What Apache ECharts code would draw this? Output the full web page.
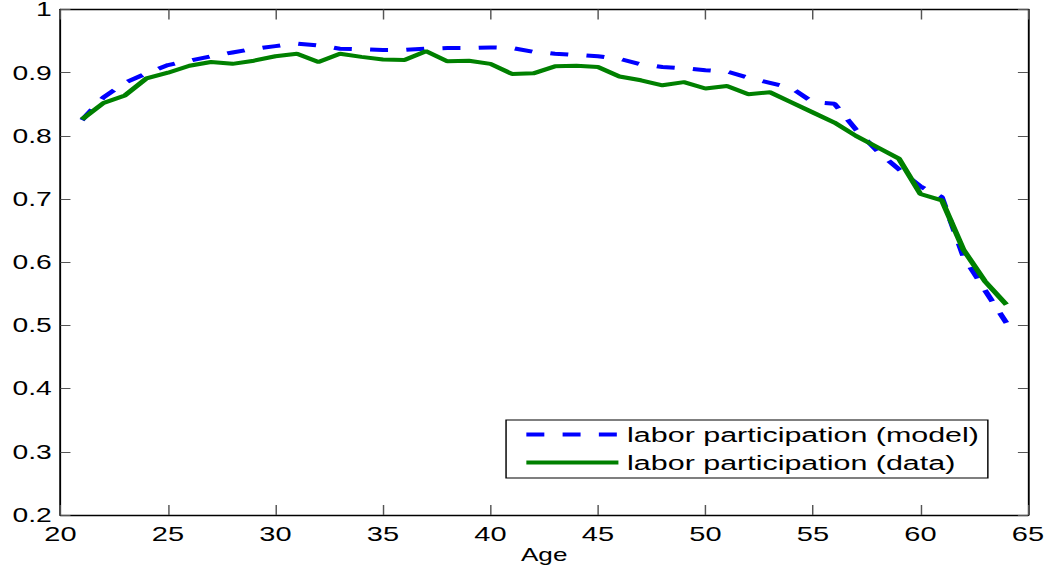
<!DOCTYPE html>
<html>
<head>
<meta charset="utf-8">
<script src="https://cdn.jsdelivr.net/npm/echarts@6/dist/echarts.min.js"></script>
<style>
  html, body { margin: 0; padding: 0; background: #fff; overflow: hidden; }
  /* The figure is laid out narrow and widened horizontally, giving the
     wide lettering and heavier vertical strokes of the original export. */
  #chart {
    position: absolute; left: 0; top: 0;
    width: 723.45px; height: 567px;
    transform-origin: 0 0;
    transform: scaleX(1.45);
  }
</style>
</head>
<body>
<div id="chart"></div>
<script>
// Age on the horizontal axis
const ages = [21, 22, 23, 24, 25, 26, 27, 28, 29, 30, 31, 32, 33, 34, 35, 36, 37, 38, 39, 40, 41, 42,
              43, 44, 45, 46, 47, 48, 49, 50, 51, 52, 53, 54, 55, 56, 57, 58, 59, 60, 61, 62, 63, 64];

// Labor participation predicted by the model
const modelParticipation = [0.825, 0.861, 0.884, 0.899, 0.912, 0.919, 0.926, 0.932, 0.938, 0.942, 0.946,
                            0.943, 0.938, 0.937, 0.936, 0.936, 0.938, 0.939, 0.939, 0.940, 0.939, 0.933,
                            0.930, 0.928, 0.926, 0.922, 0.913, 0.909, 0.907, 0.904, 0.902, 0.892, 0.884,
                            0.876, 0.853, 0.851, 0.810, 0.776, 0.747, 0.720, 0.703, 0.609, 0.556, 0.504];

// Observed labor participation
const dataParticipation = [0.826, 0.852, 0.864, 0.891, 0.900, 0.911, 0.917, 0.914, 0.919, 0.926, 0.930,
                           0.917, 0.930, 0.925, 0.921, 0.920, 0.934, 0.918, 0.919, 0.914, 0.898, 0.899,
                           0.910, 0.911, 0.909, 0.894, 0.888, 0.880, 0.885, 0.875, 0.879, 0.866, 0.869,
                           0.853, 0.837, 0.821, 0.800, 0.782, 0.764, 0.708, 0.698, 0.620, 0.570, 0.533];

const seriesNames = ['labor participation (model)', 'labor participation (data)'];
const xLabel = 'Age';

const FONT = '"Liberation Sans", Arial, Helvetica, sans-serif';

const pairs = (xs, ys) => xs.map((x, i) => [x, ys[i]]);

const chart = echarts.init(document.getElementById('chart'), null, { renderer: 'svg' });

const frameLine = { show: true, onZero: false, lineStyle: { color: '#000', width: 1.3 } };
const tickStyle = { color: '#555', width: 1 };

chart.setOption({
  animation: false,
  backgroundColor: '#fff',
  // fixed plot box; labels are placed around it without shrinking it
  grid: { left: 41.7, right: 14.1, top: 9.5, bottom: 52, containLabel: false, outerBoundsMode: 'none' },
  xAxis: [
    {
      type: 'value', min: 20, max: 65, interval: 5,
      name: xLabel, nameLocation: 'middle', nameGap: 31, nameMoveOverlap: false,
      nameTextStyle: { fontFamily: FONT, fontSize: 18, color: '#000' },
      axisLine: frameLine,
      axisTick: { show: true, inside: true, length: 10, lineStyle: tickStyle },
      axisLabel: { fontFamily: FONT, fontSize: 20, color: '#000', margin: 9 },
      splitLine: { show: false }
    },
    {
      type: 'value', min: 20, max: 65, interval: 5, position: 'top',
      axisLine: frameLine,
      axisTick: { show: true, inside: true, length: 10, lineStyle: tickStyle },
      axisLabel: { show: false },
      splitLine: { show: false }
    }
  ],
  yAxis: [
    {
      type: 'value', min: 0.2, max: 1, interval: 0.1,
      axisLine: frameLine,
      axisTick: { show: true, inside: true, length: 6.9, lineStyle: tickStyle },
      axisLabel: {
        fontFamily: FONT, fontSize: 19.5, color: '#000', margin: 6,
        padding: [4, 0, 0, 0],
        formatter: v => String(Math.round(v * 10) / 10)
      },
      splitLine: { show: false }
    },
    {
      type: 'value', min: 0.2, max: 1, interval: 0.1, position: 'right',
      axisLine: frameLine,
      axisTick: { show: true, inside: true, length: 6.9, lineStyle: tickStyle },
      axisLabel: { show: false },
      splitLine: { show: false }
    }
  ],
  legend: {
    left: 349, top: 420,
    orient: 'vertical',
    data: seriesNames,
    backgroundColor: '#fff',
    borderColor: '#000', borderWidth: 1,
    padding: [4, 6, 5, 12],
    itemWidth: 63.5, itemHeight: 20, itemGap: 7,
    lineStyle: { width: 4 },
    itemStyle: { opacity: 0 },
    textStyle: { fontFamily: FONT, fontSize: 21, color: '#000', padding: [0, 0, 0, 1] }
  },
  series: [
    {
      name: seriesNames[0], type: 'line',
      data: pairs(ages, modelParticipation),
      symbol: 'none',
      lineStyle: { color: '#0000ff', width: 4, type: [12.4, 12.6], cap: 'butt' },
      itemStyle: { color: '#0000ff' },
      z: 2
    },
    {
      name: seriesNames[1], type: 'line',
      data: pairs(ages, dataParticipation),
      symbol: 'none',
      lineStyle: { color: '#008000', width: 4, type: 'solid' },
      itemStyle: { color: '#008000' },
      z: 3
    }
  ]
});
</script>
</body>
</html>
